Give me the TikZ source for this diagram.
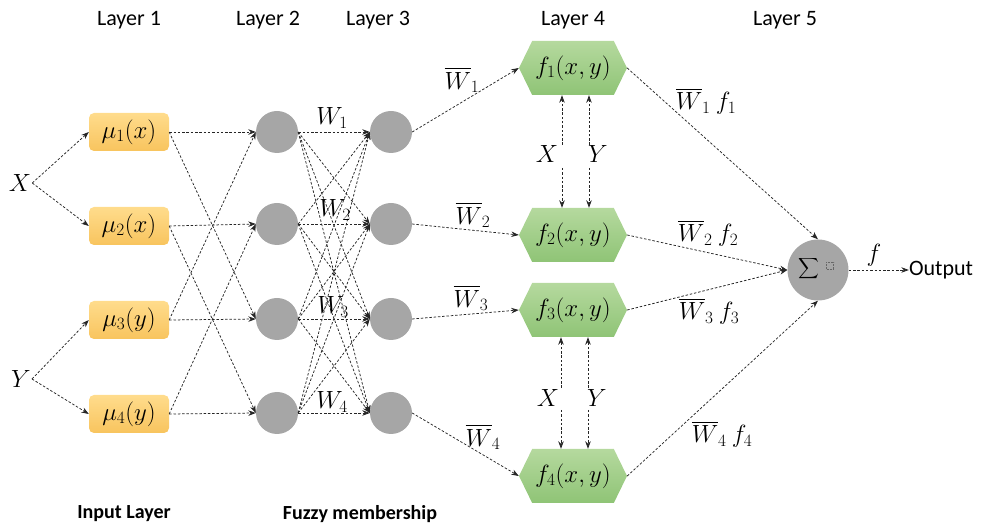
\documentclass[tikz,border=0pt]{standalone}
\usepackage{amsmath}
\usepackage{fontspec}
\setmainfont{Carlito}
\usetikzlibrary{arrows.meta,shapes.symbols}
\definecolor{gtop}{HTML}{FFDC8C}
\definecolor{gbot}{HTML}{F8C45E}
\definecolor{htop}{HTML}{B5D99E}
\definecolor{hbot}{HTML}{8FC476}
\definecolor{neugray}{HTML}{A6A6A6}
\begin{document}
\begin{tikzpicture}[x=1pt,y=-1pt,
  every node/.style={font=\fontsize{23}{27}\selectfont},
  mubox/.style={rectangle, rounded corners=5pt, minimum width=80pt, minimum height=38pt, top color=gtop, bottom color=gbot, draw=none, inner sep=0pt},
  hexbox/.style={signal, signal to=east and west, signal pointer angle=128, minimum width=108pt, minimum height=54pt, top color=htop, bottom color=hbot, draw=none, inner sep=0pt},
  neuron/.style={circle, fill=neugray, minimum size=42pt, inner sep=0pt},
  arr/.style={draw=black!85, line width=0.75pt, dash pattern=on 2.5pt off 1.8pt, -{Stealth[length=7.5pt,width=5.5pt]}},
  lab/.style={inner sep=1pt},
  title/.style={font=\fontsize{22}{26}\selectfont, inner sep=0pt},
  bold/.style={font=\fontsize{20}{24}\selectfont\bfseries, inner sep=0pt},
]
\useasboundingbox (0,0) rectangle (989,526);

% titles
\node[title] (t1) at (129,20) {Layer 1};
\node[title] (t2) at (268,20) {Layer 2};
\node[title] (t3) at (378,20) {Layer 3};
\node[title] (t4) at (573,20) {Layer 4};
\node[title] (t5) at (785,20) {Layer 5};
\node[bold] (il) at (124,514) {Input Layer};
\node[bold] (fm) at (360,514) {Fuzzy membership};

% inputs
\node[lab] (X) at (20,183) {$X$};
\node[lab] (Y) at (21,379) {$Y$};

% layer 1
\node[mubox] (m1) at (129,132) {$\mu_1(x)$};
\node[mubox] (m2) at (129,226) {$\mu_2(x)$};
\node[mubox] (m3) at (129,320) {$\mu_3(y)$};
\node[mubox] (m4) at (129,414) {$\mu_4(y)$};

% layer 2 and 3
\foreach \i/\yy in {1/132,2/224,3/319,4/413}{
  \node[neuron] (a\i) at (277,\yy) {};
  \node[neuron] (b\i) at (391,\yy) {};
}

% layer 4
\node[hexbox] (f1) at (573,68) {$f_1(x,y)$};
\node[hexbox] (f2) at (573,235) {$f_2(x,y)$};
\node[hexbox] (f3) at (573,310) {$f_3(x,y)$};
\node[hexbox] (f4) at (573,476) {$f_4(x,y)$};

% layer 5
\node[neuron, minimum size=61pt] (sum) at (818,270) {};
\node[inner sep=0pt, font=\fontsize{15}{18}\selectfont] (sig) at (809,269) {$\displaystyle\sum$};
\node[draw=black!60, densely dotted, line width=0.5pt, minimum size=7pt, inner sep=0pt] (ph) at (830,266) {};
\node[inner sep=0pt, font=\fontsize{22}{26}\selectfont] (out) at (941,270) {Output};

% edges input -> layer 1
\draw[arr] (X.east) -- (m1.west);
\draw[arr] (X.east) -- (m2.west);
\draw[arr] (Y.east) -- (m3.west);
\draw[arr] (Y.east) -- (m4.west);

% layer 1 -> layer 2
\draw[arr] (m1.east) -- (a1.west);
\draw[arr] (m1.east) -- (a3.west);
\draw[arr] (m2.east) -- (a2.west);
\draw[arr] (m2.east) -- (a4.west);
\draw[arr] (m3.east) -- (a3.west);
\draw[arr] (m3.east) -- (a1.west);
\draw[arr] (m4.east) -- (a4.west);
\draw[arr] (m4.east) -- (a2.west);

% layer 2 -> layer 3
\foreach \i in {1,2,3,4}{
  \foreach \j in {1,2,3,4}{
    \draw[arr] (a\i.east) -- (b\j.west);
  }
}
\node[lab] (w1) at (332,118) {$W_1$};
\node[lab] (w2) at (335,210) {$W_2$};
\node[lab] (w3) at (333,307) {$W_3$};
\node[lab] (w4) at (332,402) {$W_4$};

% layer 3 -> layer 4
\foreach \i in {1,2,3,4}{
  \draw[arr] (b\i.east) -- (f\i.west);
}
\node[lab] (wb1) at (462,80) {$\overline{W}_1$};
\node[lab] (wb2) at (473,215) {$\overline{W}_2$};
\node[lab] (wb3) at (471,298) {$\overline{W}_3$};
\node[lab] (wb4) at (483,437) {$\overline{W}_4$};

% X/Y between f1 and f2
\node[lab] (x12) at (547,154) {$X$};
\node[lab] (y12) at (598,154) {$Y$};
\coordinate (xu1) at (562,145);
\coordinate (xd1) at (562,168);
\coordinate (yu1) at (589,145);
\coordinate (yd1) at (589,168);
\draw[arr] (xu1) -- (xu1 |- f1.south);
\draw[arr] (yu1) -- (yu1 |- f1.south);
\draw[arr] (xd1) -- (xd1 |- f2.north);
\draw[arr] (yd1) -- (yd1 |- f2.north);

% X/Y between f3 and f4
\node[lab] (x34) at (548,398) {$X$};
\node[lab] (y34) at (597,398) {$Y$};
\coordinate (xu3) at (561,388);
\coordinate (xd3) at (561,410);
\coordinate (yu3) at (588,388);
\coordinate (yd3) at (588,410);
\draw[arr] (xu3) -- (xu3 |- f3.south);
\draw[arr] (yu3) -- (yu3 |- f3.south);
\draw[arr] (xd3) -- (xd3 |- f4.north);
\draw[arr] (yd3) -- (yd3 |- f4.north);

% layer 4 -> sum
\draw[arr] (f1.east) -- (sum.north);
\draw[arr] (f2.east) -- (sum.west);
\draw[arr] (f3.east) -- (sum.west);
\draw[arr] (f4.east) -- (sum.south);
\node[lab] (l1) at (706,101) {$\overline{W}_1\ f_1$};
\node[lab] (l2) at (708,233) {$\overline{W}_2\ f_2$};
\node[lab] (l3) at (709,311) {$\overline{W}_3\ f_3$};
\node[lab] (l4) at (722,434) {$\overline{W}_4\ f_4$};

% output
\draw[arr] (sum.east) -- (out.west);
\node[lab] (fl) at (874,255) {$f$};
\end{tikzpicture}
\end{document}
